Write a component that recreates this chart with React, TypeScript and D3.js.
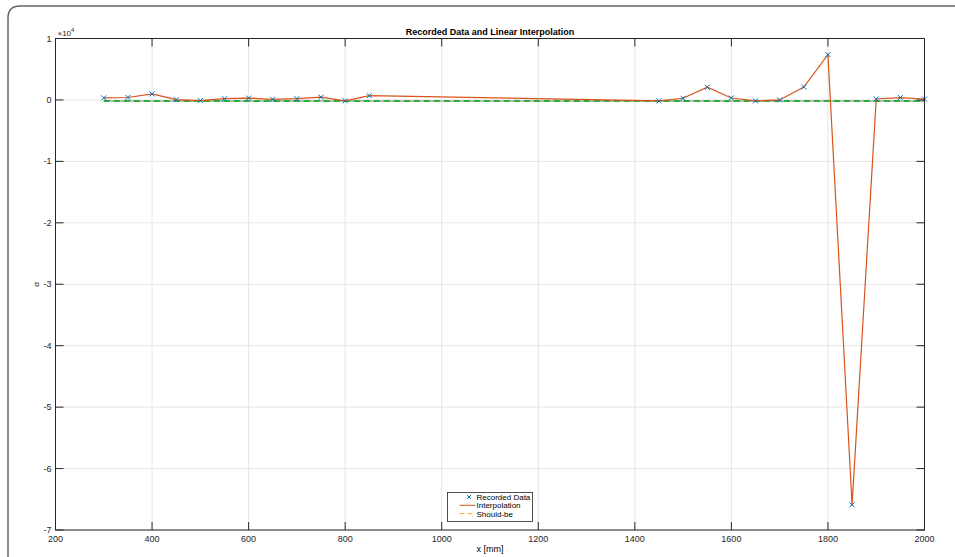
import React from "react";
import * as d3 from "d3";

const xData = [300, 350, 400, 450, 500, 550, 600, 650, 700, 750, 800, 850, 1450, 1500, 1550, 1600, 1650, 1700, 1750, 1800, 1850, 1900, 1950, 2000];
const yData = [330, 400, 980, 50, -100, 200, 300, 100, 200, 450, -150, 700, -150, 270, 2060, 320, -160, 0, 2100, 7370, -65900, 160, 380, 150];
const shouldX = [300, 2000];
const shouldY = [-180, -180];
const xTicks = [200, 400, 600, 800, 1000, 1200, 1400, 1600, 1800, 2000];
const yTicks = [1, 0, -1, -2, -3, -4, -5, -6, -7];
const legendLabels = ["Recorded Data", "Interpolation", "Should-be"];

const W = 955, H = 557;
const M = { left: 55.5, right: 924.5, top: 38.5, bottom: 530 };
const FONT = "'Liberation Sans', Arial, Helvetica, sans-serif";

export default function App() {
  const x = d3.scaleLinear().domain([200, 2000]).range([M.left, M.right]);
  const y = d3.scaleLinear().domain([-70000, 10000]).range([M.bottom, M.top]);
  const line = d3.line<number>().x((_, i) => x(xData[i])).y((d) => y(d));
  const sLine = d3.line<number>().x((_, i) => x(shouldX[i])).y((d) => y(d));
  const axisColor = "#262626";
  const tickLen = 8;
  const lx = 447.5, ly = 492.5;
  const rowY = (i: number) => ly + 4.5 + i * 8.3;
  return (
    <svg width={W} height={H} style={{ position: "absolute", left: 0, top: 0, background: "#fff" }} fontFamily={FONT}>
      <path d={`M8,${H} L8,18 Q8,6 20,6 L${W},6`} fill="none" stroke="#666" strokeWidth={1.5} />
      {/* grid */}
      {xTicks.map((t) => (
        <line key={"gx" + t} x1={x(t)} x2={x(t)} y1={M.top} y2={M.bottom} stroke="#e6e6e6" strokeWidth={1} />
      ))}
      {yTicks.map((t) => (
        <line key={"gy" + t} x1={M.left} x2={M.right} y1={y(t * 10000)} y2={y(t * 10000)} stroke="#e6e6e6" strokeWidth={1} />
      ))}
      {/* should-be */}
      <path d={sLine(shouldY) || ""} fill="none" stroke="#bbbbbb" strokeWidth={2} strokeDasharray="6,4" strokeDashoffset={5} />
      <path d={sLine(shouldY) || ""} fill="none" stroke="#2ab038" strokeWidth={2} strokeDasharray="6,4" />
      {/* interpolation */}
      <path d={line(yData) || ""} fill="none" stroke="#D95319" strokeWidth={1.2} />
      {/* markers */}
      {xData.map((xv, i) => {
        const cx = x(xv), cy = y(yData[i]);
        return (
          <path key={"m" + i} d={`M${cx - 2.5},${cy - 2.5}L${cx + 2.5},${cy + 2.5}M${cx - 2.5},${cy + 2.5}L${cx + 2.5},${cy - 2.5}`} stroke="#0072BD" strokeWidth={1} />
        );
      })}
      {/* axes box */}
      <rect x={M.left} y={M.top} width={M.right - M.left} height={M.bottom - M.top} fill="none" stroke={axisColor} strokeWidth={1} />
      {xTicks.map((t) => (
        <g key={"xt" + t}>
          <line x1={x(t)} x2={x(t)} y1={M.bottom} y2={M.bottom - tickLen} stroke={axisColor} />
          <line x1={x(t)} x2={x(t)} y1={M.top} y2={M.top + tickLen} stroke={axisColor} />
          <text x={x(t)} y={M.bottom + 12} fontSize={9} textAnchor="middle" fill={axisColor}>{t}</text>
        </g>
      ))}
      {yTicks.map((t) => (
        <g key={"yt" + t}>
          <line x1={M.left} x2={M.left + tickLen} y1={y(t * 10000)} y2={y(t * 10000)} stroke={axisColor} />
          <line x1={M.right} x2={M.right - tickLen} y1={y(t * 10000)} y2={y(t * 10000)} stroke={axisColor} />
          <text x={M.left - 4} y={y(t * 10000) + 3} fontSize={9} textAnchor="end" fill={axisColor}>{t}</text>
        </g>
      ))}
      <text x={M.left + 2} y={M.top - 3} fontSize={8} fill={axisColor}>
        ×10<tspan dy={-4} fontSize={6}>4</tspan>
      </text>
      <text x={(M.left + M.right) / 2} y={35} fontSize={9} fontWeight="bold" textAnchor="middle" fill="#000">Recorded Data and Linear Interpolation</text>
      <text x={(M.left + M.right) / 2} y={552} fontSize={9} textAnchor="middle" fill="#000">x [mm]</text>
      <text transform={`translate(39,${(M.top + M.bottom) / 2}) rotate(-90)`} fontSize={8} textAnchor="middle" fill="#000">σ</text>
      {/* legend */}
      <rect x={lx} y={ly} width={85} height={29} fill="#fff" stroke={axisColor} strokeWidth={0.8} />
      <path d={`M${lx + 19.5},${rowY(0) - 2}L${lx + 23.5},${rowY(0) + 2}M${lx + 19.5},${rowY(0) + 2}L${lx + 23.5},${rowY(0) - 2}`} stroke="#0072BD" strokeWidth={1} />
      <line x1={lx + 12} x2={lx + 28} y1={rowY(1)} y2={rowY(1)} stroke="#D95319" strokeWidth={1} />
      <line x1={lx + 12} x2={lx + 28} y1={rowY(2)} y2={rowY(2)} stroke="#EDB120" strokeWidth={1} strokeDasharray="5,3" />
      {legendLabels.map((l, i) => (
        <text key={l} x={lx + 29} y={rowY(i) + 3} fontSize={8} fill="#000">{l}</text>
      ))}
    </svg>
  );
}
